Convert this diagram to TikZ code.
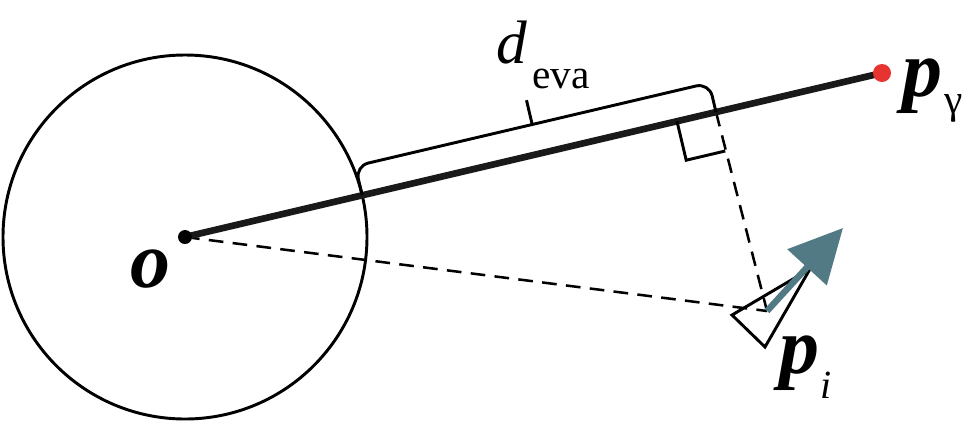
\documentclass[tikz,border=0pt]{standalone}
\usepackage{fontspec}
\setmainfont{Liberation Serif}
\usetikzlibrary{arrows.meta}
\definecolor{arrowteal}{RGB}{82,122,132}
\definecolor{dotred}{RGB}{232,52,48}
\begin{document}
\begin{tikzpicture}[x=0.75pt,y=-0.75pt,
  thinline/.style={line width=2.2pt, black},
  thickline/.style={line width=5pt, black!90},
  dashline/.style={line width=1.9pt, dash pattern=on 11pt off 7pt},
  normalarrow/.style={line width=4.8pt, arrowteal, -{Triangle[length=40pt,width=39pt]}},
  lbl/.style={anchor=base west, inner sep=0pt}]
\useasboundingbox (0,0) rectangle (967,430);
% key points
\coordinate (o) at (185,237);
\coordinate (pg) at (882,73);
\coordinate (pi) at (767,311);
\coordinate (F) at (716,112.1);
\coordinate (A) at (362.2,195.3);
\coordinate (Au) at (355.3,166.1);
\coordinate (Fu) at (709.1,82.9);
\coordinate (M) at (532.2,124.5);
\coordinate (Mu) at (526.5,100.2);
\coordinate (R1) at (677,121.3);
\coordinate (R2) at (686.2,160.2);
\coordinate (R3) at (725.2,151.0);
\coordinate (T1) at (732,315);
\coordinate (T2) at (765,347);
\coordinate (T3) at (810,269);
\coordinate (tip) at (843,228);
% circle
\draw[thinline] (o) circle[radius=182];
% dashed lines
\draw[dashline] (o) -- (pi);
\draw[dashline] (F) -- (pi);
% main thick line
\draw[thickline] (o) -- (pg);
\fill[black] (o) circle[radius=7];
\fill[dotred] (pg) circle[radius=9];
% bracket d_eva
\draw[thinline, rounded corners=10pt] (A) -- (Au) -- (Fu) -- (F);
\draw[thinline] (M) -- (Mu);
% right angle mark
\draw[thinline, line join=miter] (R1) -- (R2) -- (R3);
% triangle marker
\draw[thinline, line join=miter] (T1) -- (T2) -- (T3) -- cycle;
% normal arrow
\draw[normalarrow] (pi) -- (tip);
% labels
\node[lbl] (olab) at (130,287) {\fontsize{60}{60}\selectfont\bfseries\itshape o};
\node[lbl] (pglab) at (902,96) {\fontsize{60}{60}\selectfont\bfseries\itshape p\kern2pt\raisebox{-13pt}{\fontsize{31}{31}\selectfont\mdseries\upshape γ}};
\node[lbl] (pilab) at (779,373) {\fontsize{60}{60}\selectfont\bfseries\itshape p\kern1pt\raisebox{-19pt}{\fontsize{30}{30}\selectfont\mdseries\itshape i}};
\node[lbl] (dlab) at (496,63) {\fontsize{46}{46}\selectfont\itshape d\kern4pt\raisebox{-19pt}{\fontsize{31}{31}\selectfont\upshape eva}};
\end{tikzpicture}
\end{document}
